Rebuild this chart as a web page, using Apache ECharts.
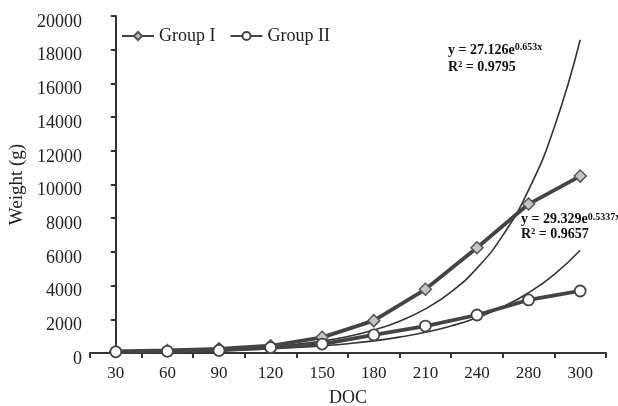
<!DOCTYPE html>
<html>
<head>
<meta charset="utf-8">
<script src="https://cdn.jsdelivr.net/npm/echarts@6/dist/echarts.min.js"></script>
<style>html,body{margin:0;padding:0;background:#fff}#c{width:618px;height:406px}</style>
</head>
<body>
<div id="c"></div>
<script>
var categories = ['30','60','90','120','150','180','210','240','280','300'];
var groupI  = [100, 150, 250, 430, 930, 1920, 3780, 6250, 8840, 10500];
var groupII = [70, 100, 150, 320, 530, 1070, 1600, 2255, 3150, 3680];
// exponential trendlines read at every half category step (position 0 = first category)
var trendX  = [0, 0.5, 1, 1.5, 2, 2.5, 3, 3.5, 4, 4.5, 5, 5.5, 6, 6.5, 7, 7.5, 8, 8.5, 9];
var trendI  = [52, 72, 100, 139, 192, 267, 370, 512, 710, 984, 1364, 1891, 2621, 3633, 5036, 6981, 9676, 13412, 18590];
var trendII = [50, 65, 85, 111, 145, 190, 248, 324, 423, 552, 721, 942, 1230, 1606, 2097, 2739, 3577, 4670, 6099];
var yTicks = [0, 2000, 4000, 6000, 8000, 10000, 12000, 14000, 16000, 18000, 20000];

function pairs(xs, ys) { return xs.map(function (x, i) { return [x, ys[i]]; }); }

var FONT = '"Liberation Serif", "Times New Roman", serif';
var chart = echarts.init(document.getElementById('c'), null, {renderer: 'canvas'});
chart.setOption({
  animation: false,
  backgroundColor: '#fff',
  textStyle: {fontFamily: FONT},
  grid: {left: 90, right: 12, top: 16, bottom: 53, containLabel: false, outerBoundsMode: 'none'},
  legend: {
    left: 121, top: 27, padding: 0,
    itemWidth: 32, itemHeight: 10, itemGap: 14,
    textStyle: {fontFamily: FONT, fontSize: 18, color: '#222'},
    data: ['Group I', 'Group II']
  },
  xAxis: [{
    type: 'category',
    data: categories,
    boundaryGap: true,
    name: 'DOC',
    nameLocation: 'middle',
    nameGap: 36,
    nameTextStyle: {fontFamily: FONT, fontSize: 18, color: '#222'},
    axisLine: {lineStyle: {color: '#333', width: 2}},
    axisTick: {show: true, inside: false, length: 5, lineStyle: {color: '#333', width: 2}},
    axisLabel: {fontFamily: FONT, fontSize: 17, color: '#222', margin: 12},
    splitLine: {show: false}
  }, {
    type: 'value', min: -0.5, max: 9.5, show: false, position: 'bottom'
  }],
  yAxis: {
    type: 'value',
    min: yTicks[0], max: yTicks[yTicks.length - 1], interval: 2000,
    name: 'Weight (g)',
    nameLocation: 'middle',
    nameGap: 62,
    nameTextStyle: {fontFamily: FONT, fontSize: 19, color: '#222'},
    axisLine: {show: true, lineStyle: {color: '#333', width: 2}},
    axisTick: {show: true, inside: false, length: 5, lineStyle: {color: '#333', width: 2}},
    axisLabel: {
      fontFamily: FONT, fontSize: 18, color: '#222', margin: 8,
      verticalAlign: 'top', lineHeight: 12,
      formatter: function (v) { return String(v); }
    },
    splitLine: {show: false}
  },
  series: [
    {
      name: 'trendI', type: 'line', xAxisIndex: 1, data: pairs(trendX, trendI), smooth: true,
      symbol: 'none', lineStyle: {color: '#333', width: 1.6}, z: 1, silent: true
    },
    {
      name: 'trendII', type: 'line', xAxisIndex: 1, data: pairs(trendX, trendII), smooth: true,
      symbol: 'none', lineStyle: {color: '#333', width: 1.6}, z: 1, silent: true
    },
    {
      name: 'Group I', type: 'line', data: groupI,
      symbol: 'diamond', symbolSize: 12,
      lineStyle: {color: '#444', width: 3.8},
      itemStyle: {color: '#c4c4c4', borderColor: '#555', borderWidth: 1.5},
      z: 3
    },
    {
      name: 'Group II', type: 'line', data: groupII,
      symbol: 'circle', symbolSize: 11,
      lineStyle: {color: '#444', width: 3.8},
      itemStyle: {color: '#fff', borderColor: '#444', borderWidth: 1.8},
      z: 3
    }
  ],
  graphic: [
    {
      type: 'text', left: 448, top: 42,
      style: {
        rich: {
          b: {fontFamily: FONT, fontSize: 14, fontWeight: 'bold', fill: '#111'},
          s: {fontFamily: FONT, fontSize: 10, fontWeight: 'bold', fill: '#111', verticalAlign: 'top', padding: [0,0,7,0]}
        },
        text: '{b|y = 27.126e}{s|0.653x}\n{b|R² = 0.9795}',
        lineHeight: 17
      }
    },
    {
      type: 'text', left: 521, top: 212,
      style: {
        rich: {
          b: {fontFamily: FONT, fontSize: 14, fontWeight: 'bold', fill: '#111'},
          s: {fontFamily: FONT, fontSize: 10, fontWeight: 'bold', fill: '#111', verticalAlign: 'top', padding: [0,0,7,0]}
        },
        text: '{b|y = 29.329e}{s|0.5337x}\n{b|R² = 0.9657}',
        lineHeight: 15
      }
    }
  ]
});
</script>
</body>
</html>
